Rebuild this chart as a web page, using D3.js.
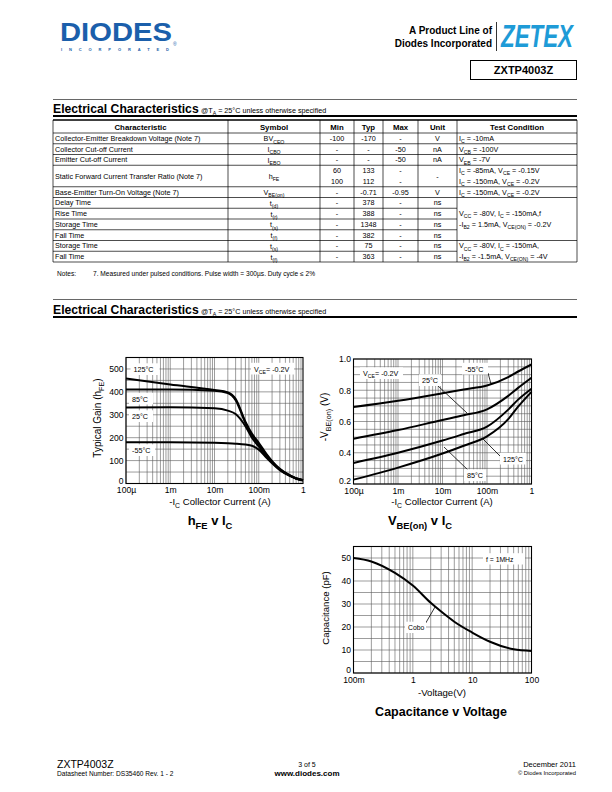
<!DOCTYPE html>
<html><head><meta charset="utf-8">
<script src="https://cdn.jsdelivr.net/npm/d3@7/dist/d3.min.js"></script>
<style>body{margin:0;background:#fff}svg{display:block;font-family:"Liberation Sans",Arial,Helvetica,sans-serif}</style>
</head><body>
<script>
// ---------------- DATA ----------------
const hfeCurrent = [1e-4, 1e-3, 1e-2, 2e-2, 3e-2, 5e-2, 7e-2, 0.1, 0.15, 0.2, 0.3, 0.5, 0.7, 1];
const hfe125 = [458, 432, 408, 398, 370, 270, 218, 178, 128, 98, 64, 36, 23, 15];
const hfe85  = [410, 410, 405, 395, 364, 264, 212, 172, 124, 95, 62, 35, 22, 14];
const hfe25  = [332, 333, 328, 318, 303, 250, 200, 162, 118, 92, 60, 34, 22, 14];
const hfeM55 = [180, 180, 178, 176, 174, 170, 165, 148, 112, 88, 58, 33, 21, 13];
const hfeYTicks = [0, 100, 200, 300, 400, 500];

const vbeCurrent = [1e-4, 1e-3, 1e-2, 3e-2, 0.1, 0.3, 0.5, 1];
const vbeM55 = [0.693, 0.733, 0.781, 0.805, 0.830, 0.884, 0.920, 0.965];
const vbe25  = [0.490, 0.545, 0.610, 0.640, 0.678, 0.764, 0.815, 0.880];
const vbe85  = [0.335, 0.400, 0.478, 0.520, 0.567, 0.676, 0.740, 0.810];
const vbe125 = [0.228, 0.305, 0.395, 0.445, 0.505, 0.615, 0.695, 0.790];
const vbeYTicks = [0.2, 0.4, 0.6, 0.8, 1.0];

const currentTicks = [1e-4, 1e-3, 1e-2, 0.1, 1];
const currentTickLabels = ["100µ", "1m", "10m", "100m", "1"];

const capVoltage = [0.1, 0.2, 0.5, 1, 2, 3, 5, 10, 20, 50, 100];
const capCobo    = [50, 48.5, 43.5, 38, 30.5, 26.7, 22.3, 17.6, 13.6, 10.3, 9.6];
const capYTicks = [0, 10, 20, 30, 40, 50];
const voltTicks = [0.1, 1, 10, 100];
const voltTickLabels = ["100m", "1", "10", "100"];

// table
const tblHeaders = ["Characteristic", "Symbol", "Min", "Typ", "Max", "Unit", "Test Condition"];
const tblChar = ["Collector-Emitter Breakdown Voltage (Note 7)", "Collector Cut-off Current", "Emitter Cut-off Current",
  "Static Forward Current Transfer Ratio (Note 7)", "Base-Emitter Turn-On Voltage (Note 7)", "Delay Time", "Rise Time",
  "Storage Time", "Fall Time", "Storage Time", "Fall Time"];
const tblSym = [[["BV"],["CEO","s"]], [["I"],["CBO","s"]], [["I"],["EBO","s"]], [["h"],["FE","s"]], [["V"],["BE(on)","s"]],
  [["t"],["(d)","s"]], [["t"],["(r)","s"]], [["t"],["(s)","s"]], [["t"],["(f)","s"]], [["t"],["(s)","s"]], [["t"],["(f)","s"]]];
const tblMin = [["-100"], ["-"], ["-"], ["60", "100"], ["-"], ["-"], ["-"], ["-"], ["-"], ["-"], ["-"]];
const tblTyp = [["-170"], ["-"], ["-"], ["133", "112"], ["-0.71"], ["378"], ["388"], ["1348"], ["382"], ["75"], ["363"]];
const tblMax = [["-"], ["-50"], ["-50"], ["-", "-"], ["-0.95"], ["-"], ["-"], ["-"], ["-"], ["-"], ["-"]];
const tblUnit = [["V"], ["nA"], ["nA"], ["-"], ["V"], ["ns"], ["ns"], ["ns"], ["ns"], ["ns"], ["ns"]];
const tblSpan = [1, 1, 1, 2, 1, 1, 1, 1, 1, 1, 1];
const tblTest = [
  {row: 0, span: 1, lines: [[["I"],["C","s"],[" = -10mA"]]]},
  {row: 1, span: 1, lines: [[["V"],["CB","s"],[" = -100V"]]]},
  {row: 2, span: 1, lines: [[["V"],["EB","s"],[" = -7V"]]]},
  {row: 3, span: 1, lines: [[["I"],["C","s"],[" = -85mA, V"],["CE","s"],[" = -0.15V"]], [["I"],["C","s"],[" = -150mA, V"],["CE","s"],[" = -0.2V"]]]},
  {row: 4, span: 1, lines: [[["I"],["C","s"],[" = -150mA, V"],["CE","s"],[" = -0.2V"]]]},
  {row: 5, span: 4, lines: [[["V"],["CC","s"],[" = -80V, I"],["C","s"],[" = -150mA,f"]], [["-I"],["B2","s"],[" = 1.5mA, V"],["CE(ON)","s"],[" = -0.2V"]]]},
  {row: 9, span: 2, lines: [[["V"],["CC","s"],[" = -80V, I"],["C","s"],[" = -150mA,"]], [["-I"],["B2","s"],[" = -1.5mA, V"],["CE(ON)","s"],[" = -4V"]]]}
];

// ---------------- HELPERS ----------------
const W = 612, H = 792;
const svg = d3.select("body").append("svg").attr("width", W).attr("height", H);
svg.append("rect").attr("width", W).attr("height", H).attr("fill", "#fff");

function rich(g, x, y, parts, fs, anchor, weight) {
  const t = g.append("text").attr("x", x).attr("y", y).attr("font-size", fs)
    .attr("text-anchor", anchor || "start").attr("font-weight", weight || "normal").attr("fill", "#000");
  let sub = false;
  parts.forEach(p => {
    const isSub = p[1] === "s";
    const ts = t.append("tspan").text(p[0]);
    if (isSub) { ts.attr("font-size", fs * 0.72); if (!sub) ts.attr("dy", fs * 0.3); }
    else if (sub) ts.attr("dy", -fs * 0.3);
    sub = isSub;
  });
  return t;
}

// ---------------- HEADER ----------------
const hdr = svg.append("g");
hdr.append("text").attr("x", 60).attr("y", 41).attr("font-size", 26).attr("font-weight", 900)
  .attr("fill", "#1b5fab").attr("textLength", 112).attr("lengthAdjust", "spacingAndGlyphs").text("DIODES");
hdr.append("text").attr("x", 61).attr("y", 51).attr("font-size", 4).attr("font-weight", "bold")
  .attr("fill", "#1b5fab").attr("textLength", 108).attr("lengthAdjust", "spacing").text("INCORPORATED");
hdr.append("text").attr("x", 173).attr("y", 46).attr("font-size", 5).attr("fill", "#1b5fab").text("®");
hdr.append("text").attr("x", 492).attr("y", 34).attr("font-size", 10).attr("font-weight", "bold")
  .attr("text-anchor", "end").text("A Product Line of");
hdr.append("text").attr("x", 492).attr("y", 47).attr("font-size", 10).attr("font-weight", "bold")
  .attr("text-anchor", "end").text("Diodes Incorporated");
hdr.append("line").attr("x1", 496.5).attr("x2", 496.5).attr("y1", 22).attr("y2", 51).attr("stroke", "#000").attr("stroke-width", 0.8);
hdr.append("text").attr("x", 501).attr("y", 47).attr("font-size", 32).attr("font-weight", "bold").attr("font-style", "italic")
  .attr("fill", "#1e9bd7").attr("textLength", 72).attr("lengthAdjust", "spacingAndGlyphs").text("ZETEX");
hdr.append("rect").attr("x", 470.5).attr("y", 60.5).attr("width", 106).attr("height", 19).attr("fill", "none").attr("stroke", "#000").attr("stroke-width", 1);
hdr.append("text").attr("x", 523.5).attr("y", 74).attr("font-size", 11).attr("font-weight", "bold")
  .attr("text-anchor", "middle").text("ZXTP4003Z");

// ---------------- SECTION HEADERS ----------------
function section(yTop, yBase, yLine) {
  const g = svg.append("g");
  g.append("line").attr("x1", 53).attr("x2", 577).attr("y1", yTop).attr("y2", yTop).attr("stroke", "#000").attr("stroke-width", 0.6);
  g.append("text").attr("x", 53).attr("y", yBase).attr("font-size", 12.2).attr("font-weight", "bold").text("Electrical Characteristics");
  rich(g, 201, yBase, [["@T"], ["A", "s"], [" = 25°C unless otherwise specified"]], 7.2);
  g.append("line").attr("x1", 53).attr("x2", 577).attr("y1", yLine).attr("y2", yLine).attr("stroke", "#000").attr("stroke-width", 1.8);
}
section(99.5, 112.5, 116);
section(299.5, 313.5, 317);

// ---------------- TABLE ----------------
const colX = [53, 228, 320, 354, 383, 418, 457, 577];
const tTop = 120, hdrH = 13, rowH = 10.75;
const tbl = svg.append("g");
const nUnits = d3.sum(tblSpan);
const tBot = tTop + hdrH + nUnits * rowH;
const rowStart = [];
let acc = 0; tblSpan.forEach(s => { rowStart.push(acc); acc += s; });
const uy = u => tTop + hdrH + u * rowH;
const lineAttr = sel => sel.attr("stroke", "#000").attr("stroke-width", 0.7);
tbl.append("line").attr("x1", 53).attr("x2", 577).attr("y1", tTop).attr("y2", tTop).attr("stroke", "#000").attr("stroke-width", 1.4);
lineAttr(tbl.append("line").attr("x1", 53).attr("x2", 577).attr("y1", tTop + hdrH).attr("y2", tTop + hdrH));
rowStart.slice(1).forEach(u => lineAttr(tbl.append("line").attr("x1", 53).attr("x2", 457).attr("y1", uy(u)).attr("y2", uy(u))));
tblTest.slice(1).forEach(c => { const u = rowStart[c.row]; lineAttr(tbl.append("line").attr("x1", 457).attr("x2", 577).attr("y1", uy(u)).attr("y2", uy(u))); });
lineAttr(tbl.append("line").attr("x1", 53).attr("x2", 577).attr("y1", tBot).attr("y2", tBot));
colX.forEach(x => lineAttr(tbl.append("line").attr("x1", x).attr("x2", x).attr("y1", tTop).attr("y2", tBot)));
tblHeaders.forEach((h, i) => tbl.append("text").attr("x", (colX[i] + colX[i + 1]) / 2).attr("y", tTop + 9.5)
  .attr("font-size", 7.8).attr("font-weight", "bold").attr("text-anchor", "middle").text(h));
const FS = 7.2;
tblChar.forEach((c, i) => {
  const u = rowStart[i], s = tblSpan[i];
  const cy = uy(u) + s * rowH / 2 + 2.6;
  tbl.append("text").attr("x", 55).attr("y", cy).attr("font-size", FS).text(c);
  rich(tbl, (colX[1] + colX[2]) / 2, cy + 0.5, tblSym[i], FS, "middle");
  [tblMin, tblTyp, tblMax, tblUnit].forEach((arr, k) => {
    const vals = arr[i];
    vals.forEach((v, j) => {
      const y = vals.length === 1 ? cy : uy(u) + (j + 0.5) * rowH + 2.6;
      tbl.append("text").attr("x", (colX[k + 2] + colX[k + 3]) / 2).attr("y", y).attr("font-size", FS).attr("text-anchor", "middle").text(v);
    });
  });
});
tblTest.forEach(c => {
  const u = rowStart[c.row];
  const unitsSpan = d3.sum(tblSpan.slice(c.row, c.row + c.span));
  c.lines.forEach((ln, j) => {
    let y;
    if (c.lines.length === 1) y = uy(u) + unitsSpan * rowH / 2 + 2.6;
    else {
      const mid = uy(u) + unitsSpan * rowH / 2;
      y = mid + (j - 0.5) * rowH + 2.6;
    }
    rich(tbl, 459, y, ln, FS);
  });
});
svg.append("text").attr("x", 57).attr("y", 275.5).attr("font-size", 6.6).text("Notes:");
svg.append("text").attr("x", 93).attr("y", 275.5).attr("font-size", 6.6)
  .text("7. Measured under pulsed conditions. Pulse width = 300µs. Duty cycle ≤ 2%");

// ---------------- CHART HELPER ----------------
function logChart(o) {
  const g = svg.append("g");
  const x = d3.scaleLog().domain(o.xDomain).range([o.left, o.right]);
  const y = d3.scaleLinear().domain(o.yDomain).range([o.bottom, o.top]);
  const grid = g.append("g").attr("stroke", "#5a5a5a").attr("stroke-width", 0.6);
  const lo = Math.round(Math.log10(o.xDomain[0])), hi = Math.round(Math.log10(o.xDomain[1]));
  for (let k = lo; k < hi; k++) for (let d = 1; d <= 9; d++) {
    const v = d * Math.pow(10, k);
    grid.append("line").attr("x1", x(v)).attr("x2", x(v)).attr("y1", o.top).attr("y2", o.bottom);
  }
  const n = Math.round((o.yDomain[1] - o.yDomain[0]) / o.yStep);
  for (let i = 0; i <= n; i++) {
    const v = o.yDomain[0] + i * o.yStep;
    grid.append("line").attr("x1", o.left).attr("x2", o.right).attr("y1", y(v)).attr("y2", y(v));
  }
  g.append("rect").attr("x", o.left).attr("y", o.top).attr("width", o.right - o.left).attr("height", o.bottom - o.top)
    .attr("fill", "none").attr("stroke", "#000").attr("stroke-width", 1.1);
  const xa = g.append("g").attr("transform", `translate(0,${o.bottom})`)
    .call(d3.axisBottom(x).tickValues(o.xTicks).tickFormat((d, i) => o.xTickLabels[i]).tickSize(0).tickPadding(o.xPad));
  xa.select(".domain").remove();
  xa.selectAll("text").attr("font-size", 8.6).attr("fill", "#000").attr("font-family", "Liberation Sans, Arial, sans-serif");
  const ya = g.append("g").attr("transform", `translate(${o.left},0)`)
    .call(d3.axisLeft(y).tickValues(o.yTicks).tickFormat(o.yFmt).tickSize(0).tickPadding(2.5));
  ya.select(".domain").remove();
  ya.selectAll("text").attr("font-size", 8.6).attr("fill", "#000").attr("font-family", "Liberation Sans, Arial, sans-serif");
  // lift the lowest y label so it sits above the first x label
  ya.selectAll(".tick").filter(d => d === o.yTicks[0]).select("text").attr("dy", "-0.05em");
  const line = d3.line().x(d => x(d[0])).y(d => y(d[1])).curve(d3.curveMonotoneX);
  o.series.forEach(s => {
    g.append("path").datum(s.xs.map((v, i) => [v, s.ys[i]])).attr("d", line)
      .attr("fill", "none").attr("stroke", "#000").attr("stroke-width", 2).attr("stroke-linejoin", "round");
  });
  return {g, x, y};
}
function label(g, x, y, parts, boxW, fs) {
  fs = fs || 7.2;
  g.append("rect").attr("x", x - 3).attr("y", y - fs - 1.5).attr("width", boxW).attr("height", fs + 4.5).attr("fill", "#fff");
  rich(g, x, y, parts, fs);
}
function pointer(g, x1, y1, x2, y2) {
  g.append("line").attr("x1", x1).attr("y1", y1).attr("x2", x2).attr("y2", y2).attr("stroke", "#000").attr("stroke-width", 0.8);
}

// ---------------- CHART 1: hFE v IC ----------------
const c1 = logChart({
  left: 126, right: 303, top: 357.5, bottom: 483.5, xDomain: [1e-4, 1], yDomain: [0, 550], yStep: 50,
  xTicks: currentTicks, xTickLabels: currentTickLabels, yTicks: hfeYTicks, yFmt: d3.format("d"), xPad: 3.5,
  series: [{xs: hfeCurrent, ys: hfe125}, {xs: hfeCurrent, ys: hfe85}, {xs: hfeCurrent, ys: hfe25}, {xs: hfeCurrent, ys: hfeM55}]
});
label(c1.g, 133.5, 372, [["125°C"]], 29);
label(c1.g, 132, 401.5, [["85°C"]], 24);
label(c1.g, 132, 419, [["25°C"]], 24);
label(c1.g, 132, 453, [["-55°C"]], 26);
label(c1.g, 254, 371.5, [["V"], ["CE", "s"], ["= -0.2V"]], 43);
rich(svg, 100.5, 418, [["Typical Gain (h"], ["FE", "s"], [")"]], 10, "middle").attr("transform", "rotate(-90,100.5,418)");
rich(svg, 220, 505, [["-I"], ["C", "s"], ["   Collector Current (A)"]], 9.6, "middle");
rich(svg, 210, 525, [["h"], ["FE", "s"], [" v I"], ["C", "s"]], 13, "middle", "bold");

// ---------------- CHART 2: VBE(on) v IC ----------------
const c2 = logChart({
  left: 353.5, right: 531.5, top: 359, bottom: 484, xDomain: [1e-4, 1], yDomain: [0.2, 1.0], yStep: 0.05,
  xTicks: currentTicks, xTickLabels: currentTickLabels, yTicks: vbeYTicks, yFmt: d3.format(".1f"), xPad: 3.5,
  series: [{xs: vbeCurrent, ys: vbeM55}, {xs: vbeCurrent, ys: vbe25}, {xs: vbeCurrent, ys: vbe85}, {xs: vbeCurrent, ys: vbe125}]
});
label(c2.g, 363, 376, [["V"], ["CE", "s"], ["= -0.2V"]], 43);
pointer(c2.g, 488, 373, 491, 384);
pointer(c2.g, 437, 385, 467, 413);
pointer(c2.g, 501, 457, 483, 439);
pointer(c2.g, 470, 472, 444, 447);
label(c2.g, 465, 371.5, [["-55°C"]], 26);
label(c2.g, 422, 383, [["25°C"]], 22);
label(c2.g, 503, 461.5, [["125°C"]], 26);
label(c2.g, 467, 478, [["85°C"]], 22);
rich(svg, 328, 417, [["-V"], ["BE(on)", "s"], [" (V)"]], 10, "middle").attr("transform", "rotate(-90,328,417)");
rich(svg, 442, 505, [["-I"], ["C", "s"], ["   Collector Current (A)"]], 9.6, "middle");
rich(svg, 420, 525, [["V"], ["BE(on)", "s"], [" v I"], ["C", "s"]], 13, "middle", "bold");

// ---------------- CHART 3: Capacitance v Voltage ----------------
const c3 = logChart({
  left: 353.5, right: 531.5, top: 546.5, bottom: 673, xDomain: [0.1, 100], yDomain: [0, 55], yStep: 5,
  xTicks: voltTicks, xTickLabels: voltTickLabels, yTicks: capYTicks, yFmt: d3.format("d"), xPad: 3.5,
  series: [{xs: capVoltage, ys: capCobo}]
});
label(c3.g, 486, 561.5, [["f = 1MHz"]], 42, 6.8);
pointer(c3.g, 424, 626, 435, 607);
label(c3.g, 408, 630, [["Cobo"]], 21, 6.8);
rich(svg, 329, 608, [["Capacitance (pF)"]], 9.6, "middle").attr("transform", "rotate(-90,329,608)");
svg.append("text").attr("x", 442).attr("y", 696).attr("font-size", 9.6).attr("text-anchor", "middle").text("-Voltage(V)");
svg.append("text").attr("x", 441).attr("y", 716).attr("font-size", 12.5).attr("font-weight", "bold").attr("text-anchor", "middle").text("Capacitance v Voltage");

// ---------------- FOOTER ----------------
const ft = svg.append("g");
ft.append("text").attr("x", 57).attr("y", 768).attr("font-size", 10.5).text("ZXTP4003Z");
ft.append("text").attr("x", 57).attr("y", 776).attr("font-size", 6.6).text("Datasheet Number: DS35460 Rev. 1 - 2");
ft.append("text").attr("x", 307).attr("y", 766.5).attr("font-size", 7).attr("text-anchor", "middle").text("3 of 5");
ft.append("text").attr("x", 307).attr("y", 775.5).attr("font-size", 8).attr("font-weight", "bold").attr("text-anchor", "middle").text("www.diodes.com");
ft.append("text").attr("x", 576).attr("y", 766.5).attr("font-size", 7.5).attr("text-anchor", "end").text("December 2011");
ft.append("text").attr("x", 576).attr("y", 775).attr("font-size", 5.8).attr("text-anchor", "end").text("© Diodes Incorporated");
</script>
</body></html>
